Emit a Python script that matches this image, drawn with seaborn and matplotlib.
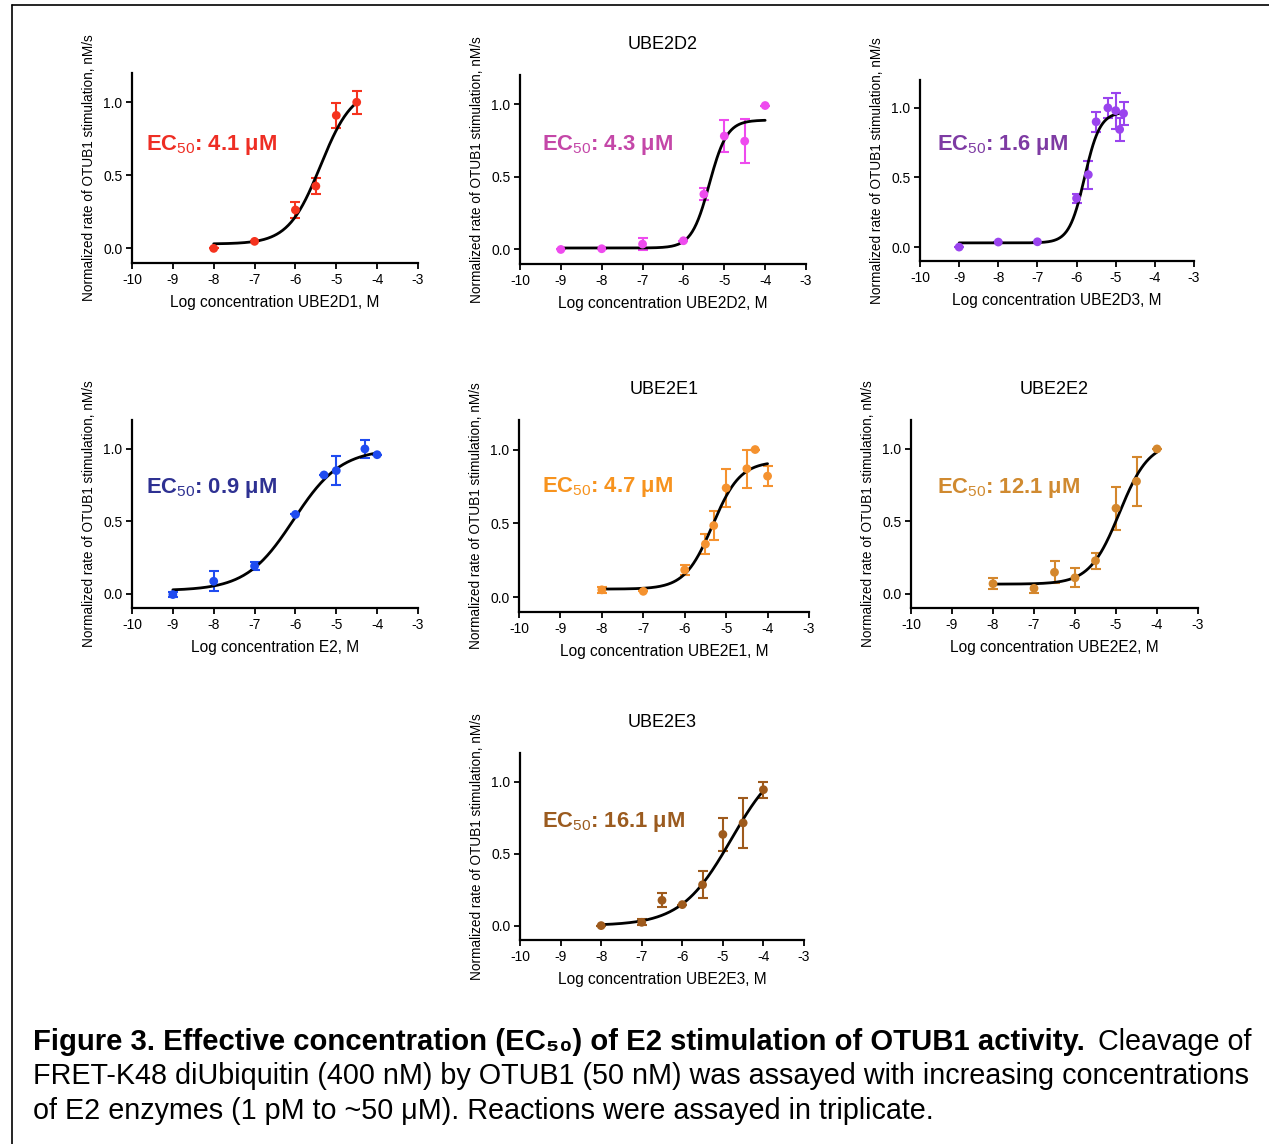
import numpy as np
import matplotlib
matplotlib.use("Agg")
import matplotlib.pyplot as plt
import seaborn as sns
from matplotlib.lines import Line2D

# ---- data ----
d1_x = [-8, -7, -6, -5.5, -5, -4.5]
d1_y = [0.0, 0.048, 0.263, 0.426, 0.91, 1.0]
d1_e = [0, 0, 0.056, 0.056, 0.084, 0.08]

d2_x = [-9, -8, -7, -6, -5.5, -5, -4.5, -4]
d2_y = [0.0, 0.005, 0.037, 0.06, 0.38, 0.78, 0.745, 0.99]
d2_e = [0, 0, 0.04, 0, 0.04, 0.11, 0.15, 0]

d3_x = [-9, -8, -7, -6, -5.7, -5.5, -5.2, -5.0, -4.9, -4.8]
d3_y = [0.0, 0.036, 0.038, 0.35, 0.52, 0.90, 1.0, 0.98, 0.845, 0.96]
d3_e = [0, 0, 0, 0.03, 0.1, 0.07, 0.07, 0.13, 0.08, 0.08]

e2_x = [-9, -8, -7, -6, -5.3, -5, -4.3, -4]
e2_y = [-0.007, 0.085, 0.19, 0.547, 0.82, 0.85, 1.0, 0.96]
e2_e = [0.02, 0.07, 0.03, 0, 0, 0.1, 0.06, 0]

e1_x = [-8, -7, -6, -5.5, -5.3, -5.0, -4.5, -4.3, -4]
e1_y = [0.05, 0.04, 0.185, 0.36, 0.485, 0.74, 0.87, 1.0, 0.82]
e1_e = [0.02, 0, 0.035, 0.07, 0.1, 0.13, 0.13, 0, 0.07]

ee2_x = [-8, -7, -6.5, -6, -5.5, -5, -4.5, -4]
ee2_y = [0.068, 0.036, 0.147, 0.109, 0.227, 0.59, 0.776, 1.0]
ee2_e = [0.04, 0.03, 0.075, 0.065, 0.055, 0.15, 0.17, 0]

ee3_x = [-8, -7, -6.5, -6, -5.5, -5, -4.5, -4]
ee3_y = [0.0, 0.023, 0.176, 0.146, 0.284, 0.634, 0.714, 0.945]
ee3_e = [0, 0.02, 0.05, 0, 0.095, 0.117, 0.175, 0.056]

# fitted 4PL parameters: bottom, top, EC50 (uM), hill
fit_bottom = [0.03, 0.01, 0.03, 0.02, 0.055, 0.065, 0.0]
fit_top = [1.10, 0.89, 0.97, 1.0, 0.92, 1.05, 1.2]
ec50_um = [4.1, 4.3, 1.6, 0.9, 4.7, 12.1, 16.1]
fit_hill = [1.1, 2.0, 2.2, 0.75, 1.3, 1.2, 0.7]

titles = ["", "UBE2D2", "", "", "UBE2E1", "UBE2E2", "UBE2E3"]
xlabels = ["UBE2D1", "UBE2D2", "UBE2D3", "E2", "UBE2E1", "UBE2E2", "UBE2E3"]
point_colors = ["#F5331E", "#EE4BEE", "#9A44EE", "#1F4BF0", "#F5922F", "#D4872D", "#9E5A1C"]
text_colors = ["#EE2E24", "#C447A8", "#7E3BA3", "#2E3192", "#F7931E", "#D08A30", "#9B5B1F"]

series = [(d1_x, d1_y, d1_e), (d2_x, d2_y, d2_e), (d3_x, d3_y, d3_e),
          (e2_x, e2_y, e2_e), (e1_x, e1_y, e1_e), (ee2_x, ee2_y, ee2_e),
          (ee3_x, ee3_y, ee3_e)]

# ---- layout (pixels: left, right, top, bottom) ----
W, H = 1269, 1144
boxes = [(132, 418, 73, 263), (520, 806, 75, 264), (920, 1194, 80, 261),
         (132, 418, 420, 608), (519, 809, 420, 612), (911, 1198, 420, 608),
         (520, 804, 753, 940)]
lab_pos = [(-9.65, 0.71), (-9.46, 0.72), (-9.57, 0.73), (-9.66, 0.73),
           (-9.44, 0.745), (-9.37, 0.73), (-9.46, 0.72)]

sns.set_theme(style="ticks")
plt.rcParams['font.family'] = ['Liberation Sans', 'DejaVu Sans']
plt.rcParams['axes.unicode_minus'] = False
plt.rcParams['mathtext.fontset'] = 'custom'
plt.rcParams['mathtext.rm'] = 'Liberation Sans'
plt.rcParams['mathtext.bf'] = 'Liberation Sans:bold'
plt.rcParams['text.color'] = 'black'
plt.rcParams['axes.labelcolor'] = 'black'

fig = plt.figure(figsize=(W / 100, H / 100), dpi=100)

for i, (xs, ys, es) in enumerate(series):
    l, r, t, b = boxes[i]
    ax = fig.add_axes([l / W, 1 - b / H, (r - l) / W, (b - t) / H])
    logec = np.log10(ec50_um[i] * 1e-6)
    xc = np.linspace(min(xs), max(xs), 200)
    yc = fit_bottom[i] + (fit_top[i] - fit_bottom[i]) / (1 + 10 ** ((logec - xc) * fit_hill[i]))
    sns.lineplot(x=xc, y=yc, ax=ax, color="black", linewidth=2.0, zorder=3)
    ax.errorbar(xs, ys, yerr=es, fmt="none", ecolor=point_colors[i],
                elinewidth=1.5, capsize=3.6, capthick=1.5, zorder=2)
    sns.scatterplot(x=xs, y=ys, ax=ax, color=point_colors[i], s=40,
                    edgecolor="none", zorder=4)
    ax.set_xlim(-10, -3)
    ax.set_ylim(-0.1, 1.2)
    ax.set_xticks(range(-10, -2))
    ax.set_yticks([0.0, 0.5, 1.0])
    ax.set_yticklabels(["0.0", "0.5", "1.0"])
    sns.despine(ax=ax)
    for s in ("left", "bottom"):
        ax.spines[s].set_linewidth(1.6)
        ax.spines[s].set_color("black")
    ax.tick_params(length=4, width=1.3, labelsize=10, pad=3, colors="black")
    ax.set_xlabel(f"Log concentration {xlabels[i]}, M", fontsize=11.2, labelpad=6)
    ax.set_ylabel("Normalized rate of OTUB1 stimulation, nM/s", fontsize=9.8, labelpad=5)
    if titles[i]:
        ax.set_title(titles[i], fontsize=13, pad=19)
    ax.text(lab_pos[i][0], lab_pos[i][1], f"EC$_{{\\mathrm{{50}}}}$: {ec50_um[i]} μM",
            color=text_colors[i], fontsize=15.8, fontweight="bold",
            ha="left", va="center")

# frame lines
fig.add_artist(Line2D([12 / W, 1], [1 - 5 / H, 1 - 5 / H], color="black", lw=1.2))
fig.add_artist(Line2D([12 / W, 12 / W], [0, 1 - 5 / H], color="black", lw=1.2))

# caption
cap_fs = 20.7
fig.text(33 / W, 1 - 1042 / H, "Figure 3. Effective concentration (EC₅₀) of E2 stimulation of OTUB1 activity.",
         fontsize=21.1, fontweight="bold", ha="left", va="center")
fig.text(1251 / W, 1 - 1042 / H, "Cleavage of", fontsize=cap_fs, ha="right", va="center")
fig.text(33 / W, 1 - 1076 / H,
         "FRET-K48 diUbiquitin (400 nM) by OTUB1 (50 nM) was assayed with increasing concentrations",
         fontsize=cap_fs, ha="left", va="center")
fig.text(33 / W, 1 - 1111 / H,
         "of E2 enzymes (1 pM to ~50 μM). Reactions were assayed in triplicate.",
         fontsize=cap_fs, ha="left", va="center")

fig.savefig("out.png", dpi=100)
